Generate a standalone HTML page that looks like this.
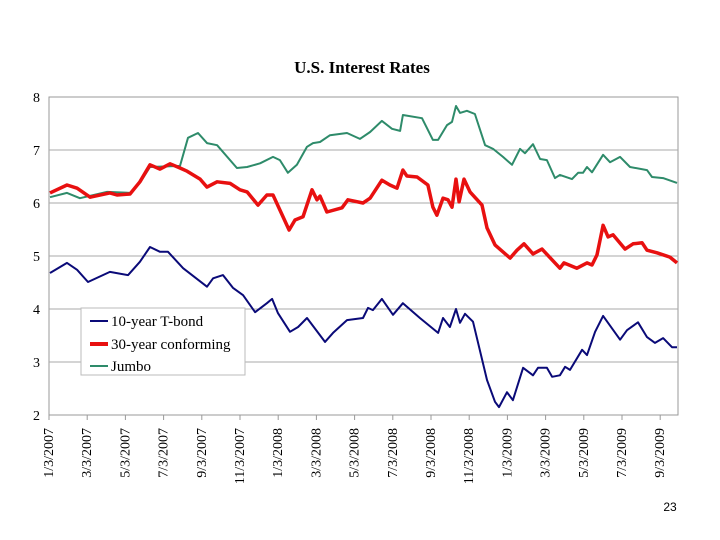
<!DOCTYPE html>
<html><head><meta charset="utf-8"><style>
body{margin:0;background:#fff;}
svg{display:block;font-family:"Liberation Serif",serif;}
</style></head><body>
<svg id="c" width="720" height="540">
<text x="362" y="73" text-anchor="middle" font-size="17" font-weight="bold">U.S. Interest Rates</text>
<rect x="49" y="97" width="629" height="318" fill="#fff" stroke="#999" stroke-width="1"/>
<g id="grid"></g><g id="yticks"></g><g id="xticks"></g><g id="series"></g>
<g>
<rect x="81" y="308" width="164" height="67" fill="#fff" stroke="#bbb"/>
<line x1="90" y1="321" x2="108" y2="321" stroke="#0a0a78" stroke-width="2"/>
<text x="111" y="326" font-size="15">10-year T-bond</text>
<line x1="90" y1="344" x2="108" y2="344" stroke="#e81010" stroke-width="4"/>
<text x="111" y="349" font-size="15">30-year conforming</text>
<line x1="90" y1="366" x2="108" y2="366" stroke="#2e8b6a" stroke-width="2"/>
<text x="111" y="371" font-size="15">Jumbo</text>
</g>
<text x="670" y="511" text-anchor="middle" font-size="12" font-family="Liberation Sans, sans-serif">23</text>
</svg>
<script>
const yTicks=[2,3,4,5,6,7,8];
const xTickLabels=["1/3/2007","3/3/2007","5/3/2007","7/3/2007","9/3/2007","11/3/2007","1/3/2008","3/3/2008","5/3/2008","7/3/2008","9/3/2008","11/3/2008","1/3/2009","3/3/2009","5/3/2009","7/3/2009","9/3/2009"];
// months since 1/3/2007
const tbondMonths=[0.05,0.94,1.47,2.04,3.19,4.14,4.76,5.29,5.81,6.23,7.02,8.27,8.59,9.11,9.63,10.16,10.79,11.41,11.68,11.99,12.62,13.04,13.51,14.45,14.87,15.6,16.44,16.7,16.96,17.43,18.01,18.53,19.42,20.37,20.63,20.99,21.31,21.52,21.78,22.2,22.93,23.35,23.56,23.98,24.29,24.82,25.34,25.6,26.07,26.34,26.75,27.02,27.28,27.91,28.17,28.59,29.01,29.9,30.26,30.84,31.31,31.73,32.15,32.62,32.88];
const tbondValues=[4.68,4.87,4.74,4.51,4.7,4.64,4.89,5.17,5.08,5.08,4.77,4.42,4.58,4.64,4.4,4.26,3.94,4.11,4.19,3.92,3.57,3.66,3.83,3.38,3.55,3.79,3.83,4.02,3.98,4.19,3.89,4.11,3.83,3.55,3.83,3.66,4.0,3.74,3.91,3.76,2.66,2.25,2.15,2.43,2.28,2.89,2.75,2.89,2.89,2.72,2.75,2.91,2.85,3.23,3.13,3.57,3.87,3.42,3.6,3.75,3.47,3.36,3.45,3.28,3.28];
const confMonths=[0.05,0.94,1.47,2.15,3.19,3.56,4.24,4.76,5.29,5.81,6.34,6.86,7.23,7.91,8.27,8.8,9.48,10.0,10.37,10.94,11.41,11.73,12.57,12.88,13.3,13.77,14.03,14.19,14.55,15.34,15.65,16.44,16.81,17.43,17.85,18.22,18.53,18.74,19.27,19.84,20.1,20.31,20.63,20.89,21.1,21.31,21.47,21.73,22.04,22.67,22.93,23.35,24.14,24.5,24.87,25.34,25.81,26.75,26.96,27.64,28.17,28.43,28.69,29.01,29.27,29.53,30.16,30.58,31.05,31.31,31.83,32.51,32.88];
const confValues=[6.19,6.34,6.28,6.11,6.19,6.15,6.17,6.4,6.72,6.64,6.74,6.66,6.6,6.45,6.3,6.4,6.37,6.25,6.21,5.96,6.15,6.15,5.49,5.68,5.74,6.25,6.06,6.13,5.83,5.91,6.06,6.0,6.09,6.43,6.34,6.28,6.62,6.51,6.49,6.34,5.92,5.77,6.09,6.06,5.92,6.45,6.02,6.45,6.21,5.96,5.53,5.21,4.96,5.11,5.23,5.04,5.13,4.77,4.87,4.77,4.87,4.83,5.02,5.58,5.36,5.4,5.13,5.23,5.25,5.11,5.06,4.98,4.87];
const jumboMonths=[0.05,0.94,1.62,3.04,4.24,4.76,5.29,6.86,7.28,7.8,8.27,8.8,9.84,10.37,11.05,11.73,12.09,12.51,12.98,13.51,13.82,14.19,14.71,15.6,16.28,16.81,17.43,17.96,18.38,18.53,19.53,20.1,20.37,20.84,21.1,21.31,21.52,21.88,22.3,22.83,23.25,23.77,24.24,24.66,24.92,25.34,25.71,26.07,26.49,26.75,27.38,27.7,27.96,28.17,28.43,29.01,29.37,29.9,30.42,31.31,31.57,32.15,32.88];
const jumboValues=[6.11,6.19,6.09,6.21,6.19,6.38,6.68,6.7,7.23,7.32,7.13,7.09,6.66,6.68,6.75,6.87,6.81,6.57,6.72,7.06,7.13,7.15,7.28,7.32,7.21,7.34,7.55,7.4,7.36,7.66,7.6,7.19,7.19,7.47,7.53,7.83,7.7,7.74,7.68,7.09,7.02,6.87,6.72,7.02,6.94,7.11,6.83,6.81,6.47,6.53,6.45,6.57,6.57,6.68,6.58,6.91,6.77,6.87,6.68,6.62,6.49,6.47,6.38];

const NS='http://www.w3.org/2000/svg';
const X0=49,MW=19.1,Y0=415,UNIT=53;
function xs(m){return X0+m*MW;}
function ys(v){return Y0-(v-2)*UNIT;}
function mk(tag,attrs,parent){const e=document.createElementNS(NS,tag);for(const k in attrs)e.setAttribute(k,attrs[k]);parent.appendChild(e);return e;}
const grid=document.getElementById('grid'),yt=document.getElementById('yticks'),xt=document.getElementById('xticks'),ser=document.getElementById('series');
yTicks.forEach(v=>{
  if(v>2&&v<8){const l=mk('line',{x1:49,x2:678,y1:ys(v),y2:ys(v),stroke:'#aaa','stroke-width':1},grid);
  
  }
  const t=mk('text',{x:40,y:ys(v)+5,'text-anchor':'end','font-size':14},yt);
  t.textContent=v;
  
  
});
xTickLabels.forEach((lab,i)=>{
  const x=xs(i*2);
  const tk=mk('line',{x1:x,x2:x,y1:415,y2:420,stroke:'#999'},xt);
  
  
  const t=mk('text',{x:x+4,y:428,'text-anchor':'end','font-size':14,transform:'rotate(-90 '+(x+4)+' 428)'},xt);
  t.textContent=lab;
  
  
});
function line(ms,vs,color,w,name){
  const d=ms.map((m,i)=>(i?'L':'M')+xs(m).toFixed(1)+' '+ys(vs[i]).toFixed(1)).join(' ');
  const p=mk('path',{d:d,fill:'none',stroke:color,'stroke-width':w,'stroke-linejoin':'round'},ser);
  
  
}
line(jumboMonths,jumboValues,'#2e8b6a',2,'jumbo-line');
line(confMonths,confValues,'#e81010',3.5,'conforming-line');
line(tbondMonths,tbondValues,'#0a0a78',2,'tbond-line');
</script>
</body></html>
